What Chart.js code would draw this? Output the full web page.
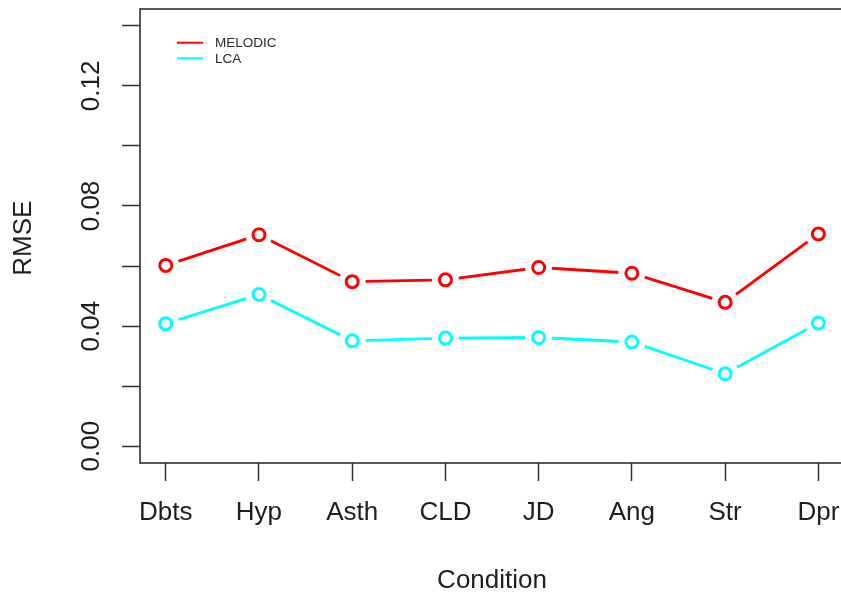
<!DOCTYPE html>
<html>
<head>
<meta charset="utf-8">
<script src="https://cdn.jsdelivr.net/npm/chart.js@4.4.1/dist/chart.umd.min.js"></script>
<style>
    html, body { margin: 0; padding: 0; background: #fff; overflow: hidden; }
    canvas { display: block; }
</style>
</head>
<body>
<canvas id="myChart" width="841" height="594"></canvas>
<script>
    var conditions = ['Dbts', 'Hyp', 'Asth', 'CLD', 'JD', 'Ang', 'Str', 'Dpr'];
    var melodic = [0.0602, 0.0704, 0.0548, 0.0554, 0.0595, 0.0576, 0.0479, 0.0707];
    var lca = [0.0408, 0.0505, 0.0351, 0.0360, 0.0362, 0.0347, 0.0241, 0.0410];
    var yTicks = [0, 0.02, 0.04, 0.06, 0.08, 0.10, 0.12, 0.14];
    var yLabels = ['0.00', '', '0.04', '', '0.08', '', '0.12', ''];
    var seriesNames = ['MELODIC', 'LCA'];
    var seriesColors = ['#ff0000', '#00ffff'];
    var xTitle = 'Condition';

    // full plot region in data units (R pads the range by 4%)
    var yTop = 0.1456;
    var xLeft = 0.72;
    var xRight = 8.28;

    var fontFamily = "'Liberation Sans', Arial, Helvetica, sans-serif";
    var inkColor = '#1e1e1e';

    function toPoints(values) {
        return values.map(function (v, i) {
            return { x: i + 1, y: v };
        });
    }

    // no extra room for overhanging labels
    function noScalePadding(scale) {
        scale.paddingLeft = 0;
        scale.paddingRight = 0;
        scale.paddingTop = 0;
        scale.paddingBottom = 0;
    }

    // type="b" look: line, then a white disc that opens a gap, then the hollow marker
    var datasets = [];
    [melodic, lca].forEach(function (values, s) {
        datasets.push({
            label: seriesNames[s],
            data: toPoints(values),
            borderColor: seriesColors[s],
            borderWidth: 2.8,
            pointRadius: 0,
            fill: false,
            order: 3
        });
        datasets.push({
            label: seriesNames[s] + ' gap',
            data: toPoints(values),
            showLine: false,
            pointRadius: 13.5,
            pointBorderWidth: 0,
            pointBackgroundColor: '#ffffff',
            pointBorderColor: '#ffffff',
            order: 2
        });
        datasets.push({
            label: seriesNames[s] + ' points',
            data: toPoints(values),
            showLine: false,
            pointRadius: 6,
            pointBorderWidth: 3,
            pointBorderColor: seriesColors[s],
            pointBackgroundColor: '#ffffff',
            order: 1
        });
    });

    var frameAndText = {
        id: 'frameAndText',
        afterDraw: function (chart) {
            var ctx = chart.ctx;
            var area = chart.chartArea;
            var xScale = chart.scales.x;
            var yScale = chart.scales.y;
            var boxTop = yScale.getPixelForValue(yTop);

            ctx.save();
            // plot box (right side runs off the canvas)
            ctx.strokeStyle = '#222';
            ctx.lineWidth = 1.5;
            ctx.beginPath();
            ctx.moveTo(chart.width, boxTop);
            ctx.lineTo(area.left, boxTop);
            ctx.lineTo(area.left, area.bottom);
            ctx.lineTo(chart.width, area.bottom);
            ctx.stroke();

            // rotated y tick labels
            ctx.fillStyle = inkColor;
            ctx.font = '26px ' + fontFamily;
            ctx.textAlign = 'center';
            ctx.textBaseline = 'middle';
            yTicks.forEach(function (v, i) {
                if (!yLabels[i]) return;
                ctx.save();
                ctx.translate(92, yScale.getPixelForValue(v));
                ctx.rotate(-Math.PI / 2);
                ctx.fillText(yLabels[i], 0, 0);
                ctx.restore();
            });

            // x title centred under the whole box
            var midX = (xScale.getPixelForValue(xLeft) + xScale.getPixelForValue(xRight)) / 2;
            ctx.fillText(xTitle, midX, chart.height - 13.5);

            // legend, lines only, no frame
            ctx.font = '13.5px ' + fontFamily;
            ctx.textAlign = 'left';
            seriesNames.forEach(function (name, i) {
                var ly = 42.7 + i * 15.6;
                ctx.strokeStyle = seriesColors[i];
                ctx.lineWidth = 2;
                ctx.beginPath();
                ctx.moveTo(177, ly);
                ctx.lineTo(203, ly);
                ctx.stroke();
                ctx.fillStyle = '#2a2a2a';
                ctx.fillText(name, 215, ly + 0.5);
            });
            ctx.restore();
        }
    };

    const ctx = document.getElementById('myChart');

    new Chart(ctx, {
        type: 'line',
        data: { datasets: datasets },
        options: {
            responsive: false,
            animation: false,
            events: [],
            layout: { padding: 0 },
            plugins: {
                legend: { display: false },
                tooltip: { enabled: false }
            },
            scales: {
                x: {
                    type: 'linear',
                    min: 0.724,
                    max: 8.098,
                    afterBuildTicks: function (scale) {
                        scale.ticks = conditions.map(function (c, i) {
                            return { value: i + 1 };
                        });
                    },
                    afterFit: function (scale) {
                        scale.height = 131;
                        noScalePadding(scale);
                    },
                    ticks: {
                        autoSkip: false,
                        maxRotation: 0,
                        padding: 19,
                        color: inkColor,
                        font: { family: fontFamily, size: 26, lineHeight: 1 },
                        callback: function (value, index) {
                            return conditions[index];
                        }
                    },
                    grid: {
                        drawOnChartArea: false,
                        tickLength: 18,
                        tickColor: '#333',
                        tickWidth: 1.5
                    },
                    border: { display: false },
                    title: { display: false }
                },
                y: {
                    type: 'linear',
                    min: -0.0056,
                    max: 0.1441,
                    afterBuildTicks: function (scale) {
                        scale.ticks = yTicks.map(function (v) {
                            return { value: v };
                        });
                    },
                    afterFit: function (scale) {
                        scale.width = 140;
                        noScalePadding(scale);
                    },
                    ticks: { display: false },
                    grid: {
                        drawOnChartArea: false,
                        tickLength: 18,
                        tickColor: '#333',
                        tickWidth: 1.5
                    },
                    border: { display: false },
                    title: {
                        display: true,
                        text: 'RMSE',
                        color: inkColor,
                        padding: { top: 11, bottom: 0 },
                        font: { family: fontFamily, size: 26, lineHeight: 1 }
                    }
                }
            }
        },
        plugins: [frameAndText]
    });
</script>
</body>
</html>
